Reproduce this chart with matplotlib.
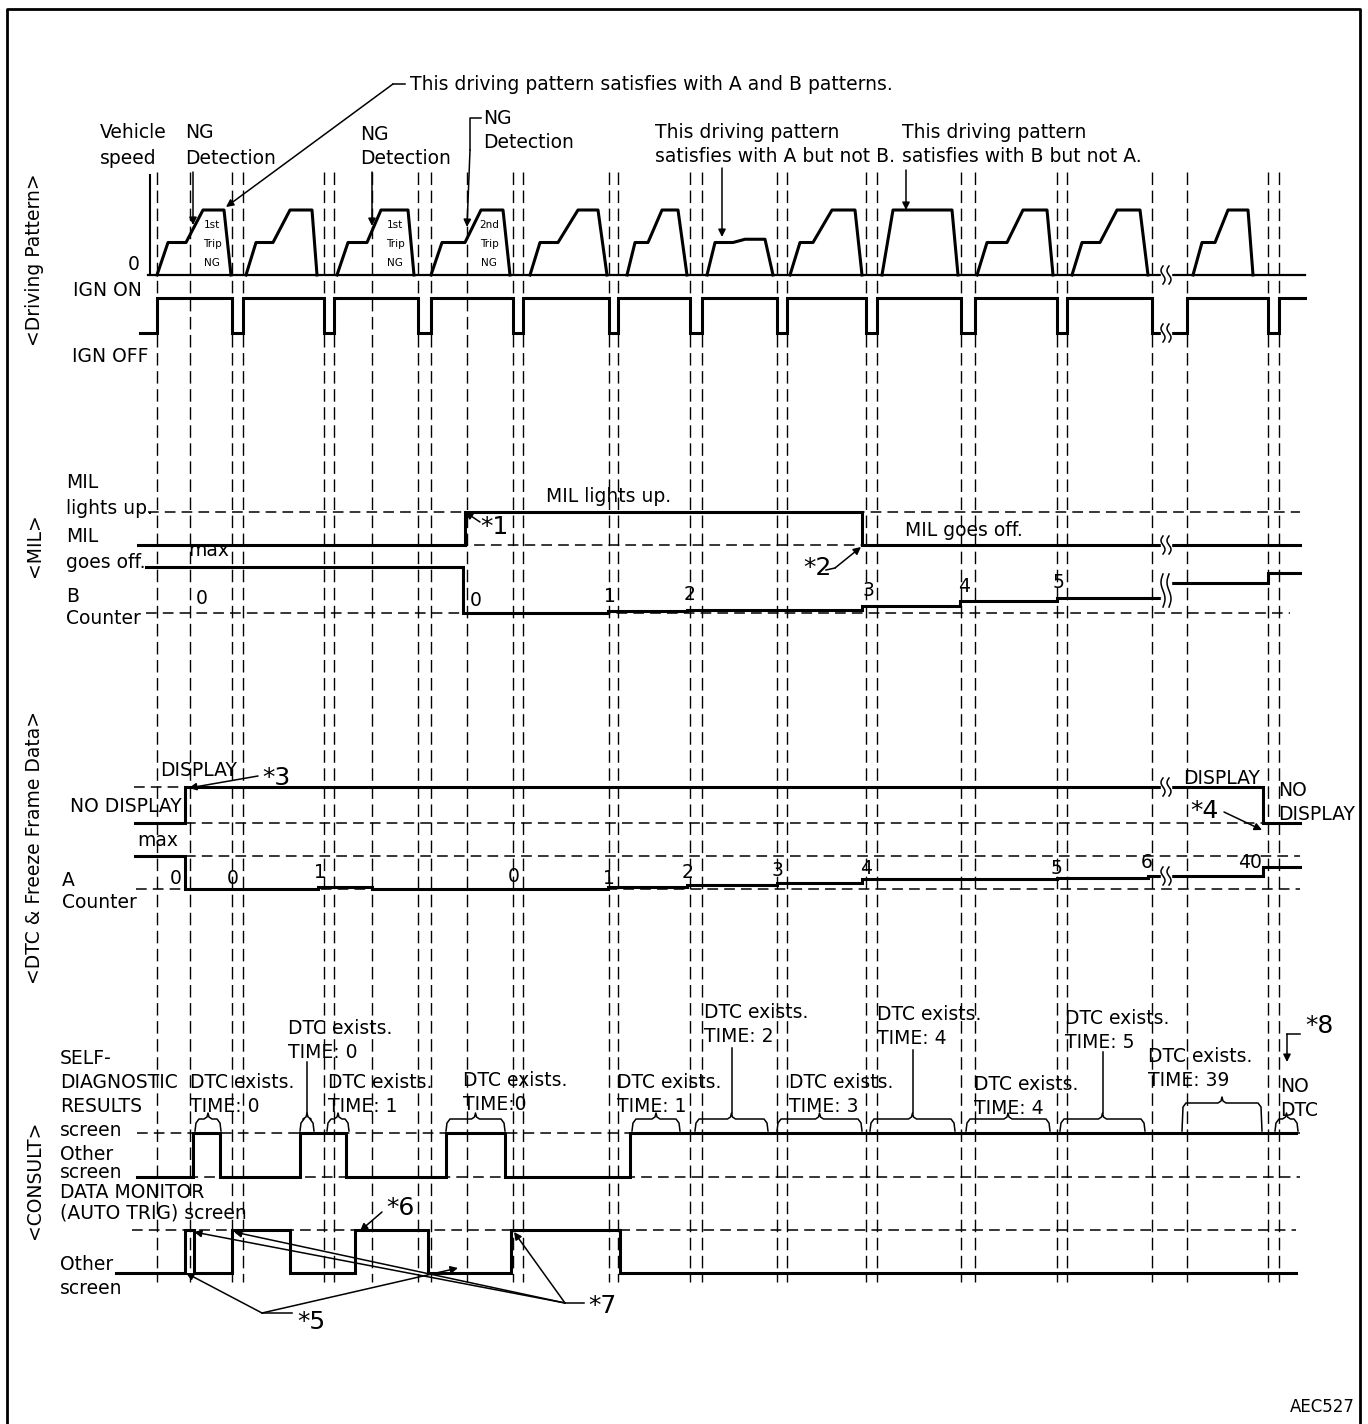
import numpy as np
import matplotlib.pyplot as plt
from matplotlib.patches import Rectangle

# ---- time axis: ignition off intervals ----
ign_start, t_end = 157, 1305
ign_off = [(232, 243), (324, 334), (418, 431), (513, 523), (609, 618), (690, 702),
           (777, 787), (866, 877), (961, 975), (1057, 1067), (1152, 1187), (1268, 1279)]
ng_detect = [190, 372, 467]
break_x = 1166

# vehicle speed per trip: (time, relative speed 0..1)
speed_profiles = [
    [(157, 0), (168, .5), (186, .5), (203, 1), (224, 1), (231, 0)],
    [(246, 0), (256, .5), (273, .5), (290, 1), (312, 1), (317, 0)],
    [(337, 0), (348, .5), (367, .5), (381, 1), (408, 1), (414, 0)],
    [(431, 0), (442, .5), (465, .5), (481, 1), (503, 1), (510, 0)],
    [(530, 0), (540, .5), (558, .5), (578, 1), (598, 1), (607, 0)],
    [(627, 0), (635, .5), (648, .5), (662, 1), (678, 1), (687, 0)],
    [(707, 0), (715, .5), (733, .5), (745, .55), (765, .55), (773, 0)],
    [(790, 0), (800, .5), (813, .5), (832, 1), (855, 1), (862, 0)],
    [(882, 0), (893, 1), (952, 1), (958, 0)],
    [(977, 0), (987, .5), (1007, .5), (1023, 1), (1047, 1), (1053, 0)],
    [(1072, 0), (1082, .5), (1100, .5), (1117, 1), (1140, 1), (1148, 0)],
    [(1193, 0), (1202, .5), (1215, .5), (1228, 1), (1248, 1), (1253, 0)],
]
trip_ng = [(212, "1st"), (395, "1st"), (489, "2nd")]

# MIL state (0 off, 1 on)
mil_x = [138, 465, 862, 1300]
mil_state = [0, 1, 0]

# B counter: change times, drawn level, labels
b_x = [146, 463, 608, 687, 862, 960, 1057, 1166, 1268, 1300]
b_lvl = [46, 0, 2, 3, 7, 12, 15, 30, 40]
b_labels = [(196, "0"), (470, "0"), (604, "1"), (684, "2"), (863, "3"), (958, "4"), (1053, "5")]
b_label_y = [598, 601, 597, 595, 591, 587, 582]

# DTC / freeze frame display state
dtc_x = [135, 185, 1263, 1300]
dtc_state = [0, 1, 0]

# A counter
a_x = [135, 185, 318, 372, 608, 687, 777, 862, 1057, 1148, 1263, 1300]
a_lvl = [33, 0, 2, 0, 2, 4, 6, 10, 11, 13, 22]
a_labels = ["0", "0", "1", "0", "1", "2", "3", "4", "5", "6", "40"]
a_label_x = [170, 227, 314, 508, 603, 682, 772, 860, 1051, 1141, 1238]
a_label_y = [878, 878, 872, 877, 878, 873, 870, 868, 869, 863, 862]

# CONSULT screens
sd_x = [137, 193, 220, 300, 346, 446, 505, 630, 1296]
sd_state = [0, 1, 0, 1, 0, 1, 0, 1]
dm_x = [116, 185, 194, 232, 290, 355, 428, 511, 620, 1296]
dm_state = [0, 1, 0, 1, 0, 1, 0, 1, 0]

# DTC exists braces: start, end, brace height, stem top
braces = [(195, 221, 12, None), (300, 314, 12, 1062), (327, 349, 12, None),
          (446, 505, 12, None), (632, 680, 12, None), (695, 768, 12, 1048),
          (777, 862, 12, None), (870, 955, 12, 1050), (966, 1050, 12, None),
          (1060, 1145, 12, 1052), (1182, 1262, 28, None), (1275, 1298, 12, None)]
dtc_labels = [("DTC exists.", "TIME: 0"), ("DTC exists.", "TIME: 0"), ("DTC exists.", "TIME: 1"),
              ("DTC exists.", "TIME:0"), ("DTC exists.", "TIME: 1"), ("DTC exists.", "TIME: 2"),
              ("DTC exists.", "TIME: 3"), ("DTC exists.", "TIME: 4"), ("DTC exists.", "TIME: 4"),
              ("DTC exists.", "TIME: 5"), ("DTC exists.", "TIME: 39"), ("NO", "DTC")]
dtc_label_pos = [(190, 1082), (288, 1028), (328, 1082), (463, 1080), (617, 1083), (704, 1013),
                 (789, 1083), (877, 1015), (974, 1085), (1065, 1018), (1148, 1057), (1280, 1087)]

# vertical levels of each trace
Y0_SPD, SPD_H = 275, 65
Y_ON, Y_OFF = 298, 333
Y_MIL_ON, Y_MIL_OFF = 512, 545
Y_B0 = 613
Y_DISP, Y_NODISP, Y_AMAX, Y_A0 = 787, 823, 856, 889
Y_SD, Y_SD_OTHER = 1133, 1177
Y_DM, Y_DM_OTHER = 1230, 1273

FS = 13.5
LW = 2.2
fig = plt.figure(figsize=(13.68, 14.24), dpi=100)
ax = fig.add_axes([0, 0, 1, 1])
ax.set_xlim(0, 1368)
ax.set_ylim(1424, 0)
ax.axis("off")


def txt(x, y, s, size=FS, **kw):
    ax.text(x, y, s, fontsize=size, va="center", ha=kw.pop("ha", "left"), **kw)


def dash_h(x0, x1, y):
    ax.plot([x0, x1], [y, y], color="k", lw=1.1, ls=(0, (7, 4)))


def steps(xs, ys, lw=LW):
    ax.step(xs, list(ys) + [ys[-1]], where="post", color="k", lw=lw, solid_joinstyle="miter")


def arrow(x0, y0, x1, y1, lw=1.1):
    ax.annotate("", xy=(x1, y1), xytext=(x0, y0),
                arrowprops=dict(arrowstyle="-|>", color="k", lw=lw, mutation_scale=11,
                                shrinkA=0, shrinkB=0))


# frame
ax.plot([7, 7, 1360, 1360], [1424, 9, 9, 1424], color="k", lw=2)

# vertical dashed time markers
marks = [ign_start] + ng_detect + [e for pair in ign_off for e in pair]
for x in marks:
    ax.plot([x, x], [172, 1282], color="k", lw=1.0, ls=(0, (9, 4)))

# ---- driving pattern ----
ax.plot([150, 150], [175, Y0_SPD], color="k", lw=1.5)
ax.plot([148, t_end], [Y0_SPD, Y0_SPD], color="k", lw=1.6)
for prof in speed_profiles:
    px, pv = zip(*prof)
    ax.plot(px, Y0_SPD - SPD_H * np.array(pv), color="k", lw=LW)
for x, s in trip_ng:
    for k, w in enumerate([s, "Trip", "NG"]):
        txt(x, 225 + 19 * k, w, size=7.5, ha="center")

ign_x, ign_s = [140, ign_start], [0, 1]
for a, b in ign_off:
    ign_x += [a, b]
    ign_s += [0, 1]
steps(ign_x + [t_end], [Y_ON if s else Y_OFF for s in ign_s])

txt(128, 265, "0")
txt(73, 290, "IGN ON")
txt(72, 357, "IGN OFF")
txt(100, 133, "Vehicle")
txt(100, 158, "speed")
txt(185, 133, "NG")
txt(185, 158, "Detection")
txt(360, 135, "NG")
txt(360, 159, "Detection")
txt(483, 118, "NG")
txt(483, 142, "Detection")
txt(655, 133, "This driving pattern")
txt(655, 157, "satisfies with A but not B.")
txt(902, 132, "This driving pattern")
txt(902, 157, "satisfies with B but not A.")
txt(410, 84, "This driving pattern satisfies with A and B patterns.")
ax.plot([405, 393], [84, 84], color="k", lw=1.1)
arrow(393, 84, 226, 207)
arrow(ng_detect[0] + 3, 172, ng_detect[0] + 3, 225)
arrow(ng_detect[1], 172, ng_detect[1], 226)
ax.plot([481, 470, 470], [118, 118, 150], color="k", lw=1.1)
arrow(470, 150, 467, 227)
arrow(722, 168, 722, 237)
arrow(906, 170, 906, 210)

# ---- MIL ----
dash_h(148, 1300, Y_MIL_ON)
dash_h(138, 1300, Y_MIL_OFF)
dash_h(146, 1290, Y_B0)
steps(mil_x, [Y_MIL_ON if s else Y_MIL_OFF for s in mil_state])
steps(b_x, [Y_B0 - v for v in b_lvl])
for (x, s), y in zip(b_labels, b_label_y):
    txt(x, y, s)
txt(188, 550, "max")
txt(66, 483, "MIL")
txt(66, 508, "lights up.")
txt(66, 537, "MIL")
txt(66, 562, "goes off.")
txt(66, 597, "B")
txt(66, 619, "Counter")
txt(546, 496, "MIL lights up.")
txt(905, 531, "MIL goes off.")
txt(480, 527, "*1", size=18)
arrow(480, 522, 465, 512)
txt(803, 568, "*2", size=18)
ax.plot([826, 835], [570, 568], color="k", lw=1.1)
arrow(835, 568, 861, 547)

# ---- DTC & freeze frame ----
dash_h(134, 185, Y_DISP)
dash_h(185, 1300, Y_NODISP)
dash_h(185, 1300, Y_AMAX)
dash_h(136, 1300, Y_A0)
steps(dtc_x, [Y_DISP if s else Y_NODISP for s in dtc_state])
steps(a_x, [Y_A0 - v for v in a_lvl])
for s, x, y in zip(a_labels, a_label_x, a_label_y):
    txt(x, y, s)
txt(160, 770, "DISPLAY")
txt(70, 807, "NO DISPLAY")
txt(137, 841, "max")
txt(62, 880, "A")
txt(62, 903, "Counter")
txt(262, 778, "*3", size=18)
arrow(258, 776, 189, 788)
txt(1183, 779, "DISPLAY")
txt(1278, 791, "NO")
txt(1278, 815, "DISPLAY")
txt(1190, 811, "*4", size=18)
arrow(1224, 812, 1262, 830)

# ---- CONSULT ----
dash_h(137, 1300, Y_SD)
dash_h(137, 1300, Y_SD_OTHER)
dash_h(132, 1296, Y_DM)
steps(sd_x, [Y_SD if s else Y_SD_OTHER for s in sd_state])
steps(dm_x, [Y_DM if s else Y_DM_OTHER for s in dm_state])

for (x0, x1, h, stem), (l1, l2), (lx, ly) in zip(braces, dtc_labels, dtc_label_pos):
    m = (x0 + x1) / 2
    y = Y_SD - 2
    bx = [x0, x0 + 1, x0 + 4, m - 4, m - 1, m, m + 1, m + 4, x1 - 4, x1 - 1, x1]
    by = [y, y - h + 4, y - h, y - h, y - h - 2, y - h - 6, y - h - 2, y - h, y - h, y - h + 4, y]
    ax.plot(bx, by, color="k", lw=1.1)
    if stem:
        ax.plot([m, m], [y - h - 6, stem], color="k", lw=1.1)
    txt(lx, ly, l1)
    txt(lx, ly + 24, l2)

for s, y in [("SELF-", 1058), ("DIAGNOSTIC", 1082), ("RESULTS", 1106), ("screen", 1130),
             ("Other", 1154), ("screen", 1173), ("DATA MONITOR", 1193),
             ("(AUTO TRIG) screen", 1213), ("Other", 1264), ("screen", 1288)]:
    txt(60, y, s)

txt(297, 1322, "*5", size=18)
ax.plot([292, 262], [1313, 1313], color="k", lw=1.1)
arrow(262, 1313, 186, 1273)
arrow(262, 1313, 458, 1268)
txt(386, 1208, "*6", size=18)
arrow(382, 1212, 360, 1231)
txt(588, 1306, "*7", size=18)
ax.plot([584, 565], [1303, 1303], color="k", lw=1.1)
for tx in [194, 234, 514]:
    arrow(565, 1303, tx, 1232)
txt(1305, 1026, "*8", size=18)
ax.plot([1300, 1287], [1034, 1034], color="k", lw=1.1)
arrow(1287, 1034, 1287, 1062)

# ---- break marks ----
for y0, y1 in [(Y0_SPD, Y0_SPD), (Y_OFF, Y_OFF), (Y_MIL_OFF, Y_MIL_OFF),
               (Y_B0 - 30, Y_B0 - 15), (Y_DISP, Y_DISP), (Y_A0 - 13, Y_A0 - 13)]:
    ax.add_patch(Rectangle((break_x - 5, y0 - 5), 10, y1 - y0 + 10, color="white", zorder=3))
    t = np.linspace(0, 1, 20)
    for off in (-3, 3):
        ax.plot(break_x + off + 2 * np.sin(2 * np.pi * t), np.linspace(y1 + 9, y0 - 9, 20),
                color="k", lw=1.1, zorder=4)

# section titles
for s, y in [("<Driving Pattern>", 260), ("<MIL>", 545),
             ("<DTC & Freeze Frame Data>", 848), ("<CONSULT>", 1180)]:
    ax.text(35, y, s, rotation=90, fontsize=FS, va="center", ha="center")

txt(1355, 1407, "AEC527", size=12, ha="right")

fig.savefig("out.png", dpi=100)
